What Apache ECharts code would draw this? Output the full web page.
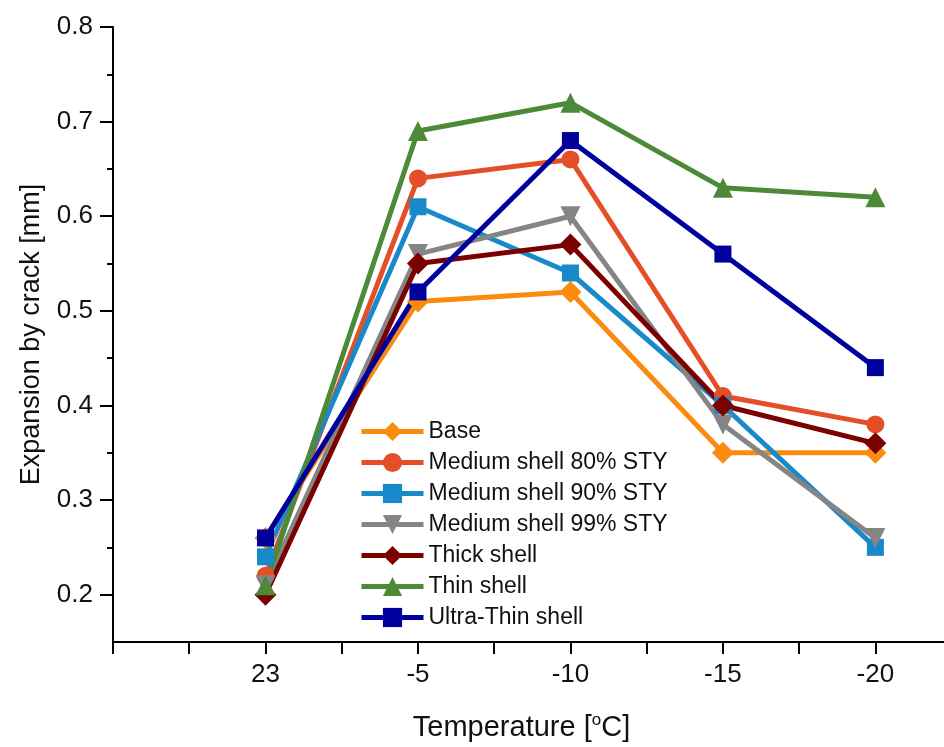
<!DOCTYPE html>
<html>
<head>
<meta charset="utf-8">
<script src="https://cdn.jsdelivr.net/npm/echarts@6/dist/echarts.min.js"></script>
<style>
  html, body { margin: 0; padding: 0; background: #fff; }
  #main { width: 944px; height: 747px; }
</style>
</head>
<body>
<div id="main"></div>
<script>
// temperatures, placed at positions 1..5 on the x axis
var categories = ['23', '-5', '-10', '-15', '-20'];

var base      = [0.26, 0.51, 0.52, 0.35, 0.35];
var med80     = [0.22, 0.64, 0.66, 0.41, 0.38];
var med90     = [0.24, 0.61, 0.54, 0.40, 0.25];
var med99     = [0.21, 0.56, 0.60, 0.38, 0.26];
var thick     = [0.20, 0.55, 0.57, 0.40, 0.36];
var thin      = [0.21, 0.69, 0.72, 0.63, 0.62];
var ultraThin = [0.26, 0.52, 0.68, 0.56, 0.44];

var yMajor = [0.2, 0.3, 0.4, 0.5, 0.6, 0.7, 0.8];
var yMinor = [0.25, 0.35, 0.45, 0.55, 0.65, 0.75];
var xTicks = [0, 0.5, 1, 1.5, 2, 2.5, 3, 3.5, 4, 4.5, 5];
var xLabels = [1, 2, 3, 4, 5];

var myChart = echarts.init(document.getElementById('main'));

function pairs(vals) {
    return vals.map(function (v, i) { return [i + 1, v]; });
}

function line(name, vals, color, symbol, size) {
    return {
        name: name,
        type: 'line',
        data: pairs(vals),
        symbol: symbol,
        symbolSize: size,
        lineStyle: { color: color, width: 5 },
        itemStyle: { color: color },
        emphasis: { disabled: true }
    };
}

var font = "'Liberation Sans', Arial, sans-serif";

option = {
    animation: false,
    backgroundColor: '#fff',
    grid: { left: 113, right: 0, top: 27, bottom: 103, containLabel: false },
    legend: {
        orient: 'vertical',
        left: 354,
        top: 415,
        itemWidth: 62,
        itemHeight: 24,
        itemGap: 8,
        lineStyle: { width: 5 },
        textStyle: { fontFamily: font, fontSize: 23, color: '#111' },
        data: ['Base', 'Medium shell 80% STY', 'Medium shell 90% STY',
               'Medium shell 99% STY', 'Thick shell', 'Thin shell', 'Ultra-Thin shell']
    },
    xAxis: {
        type: 'value',
        min: 0,
        max: 5.45,
        interval: 0.5,
        splitLine: { show: false },
        axisLine: { lineStyle: { color: '#000', width: 2 } },
        axisTick: { customValues: xTicks, length: 12, lineStyle: { color: '#000', width: 2 } },
        axisLabel: {
            customValues: xLabels,
            margin: 20,
            fontFamily: font, fontSize: 26, color: '#111',
            formatter: function (v) { return categories[Math.round(v) - 1]; }
        },
        name: 'Temperature [{sup|o}C]',
        nameLocation: 'middle',
        nameGap: 70,
        nameTextStyle: {
            fontFamily: font, fontSize: 29, color: '#111',
            padding: [0, 14, 0, 0],
            rich: { sup: { fontFamily: font, fontSize: 17, color: '#111', verticalAlign: 'top', padding: [0, 0, 14, 0] } }
        }
    },
    yAxis: [{
        type: 'value',
        min: 0.15,
        max: 0.8,
        interval: 0.05,
        splitLine: { show: false },
        axisLine: { lineStyle: { color: '#000', width: 2 } },
        axisTick: { customValues: yMajor, length: 13, lineStyle: { color: '#000', width: 2 } },
        axisLabel: {
            customValues: yMajor,
            margin: 20,
            fontFamily: font, fontSize: 26, color: '#111',
            formatter: function (v) { return v.toFixed(1); }
        },
        name: 'Expansion by crack [mm]',
        nameLocation: 'middle',
        nameGap: 68,
        nameTextStyle: { fontFamily: font, fontSize: 27, color: '#111' }
    }, {
        type: 'value',
        position: 'left',
        min: 0.15,
        max: 0.8,
        interval: 0.05,
        splitLine: { show: false },
        axisLine: { show: false },
        axisTick: { customValues: yMinor, length: 6, lineStyle: { color: '#000', width: 2 } },
        axisLabel: { show: false }
    }],
    series: [
        line('Base', base, '#F98B10', 'diamond', 22),
        line('Medium shell 80% STY', med80, '#E44F27', 'circle', 18),
        line('Medium shell 90% STY', med90, '#1A89C9', 'rect', 17),
        line('Medium shell 99% STY', med99, '#858585', 'path://M0,0 L10,0 L5,9 Z', 20),
        line('Thick shell', thick, '#7B0000', 'diamond', 22),
        line('Thin shell', thin, '#4C8A3A', 'triangle', 20),
        line('Ultra-Thin shell', ultraThin, '#00009C', 'rect', 17)
    ]
};

myChart.setOption(option, true);
</script>
</body>
</html>
